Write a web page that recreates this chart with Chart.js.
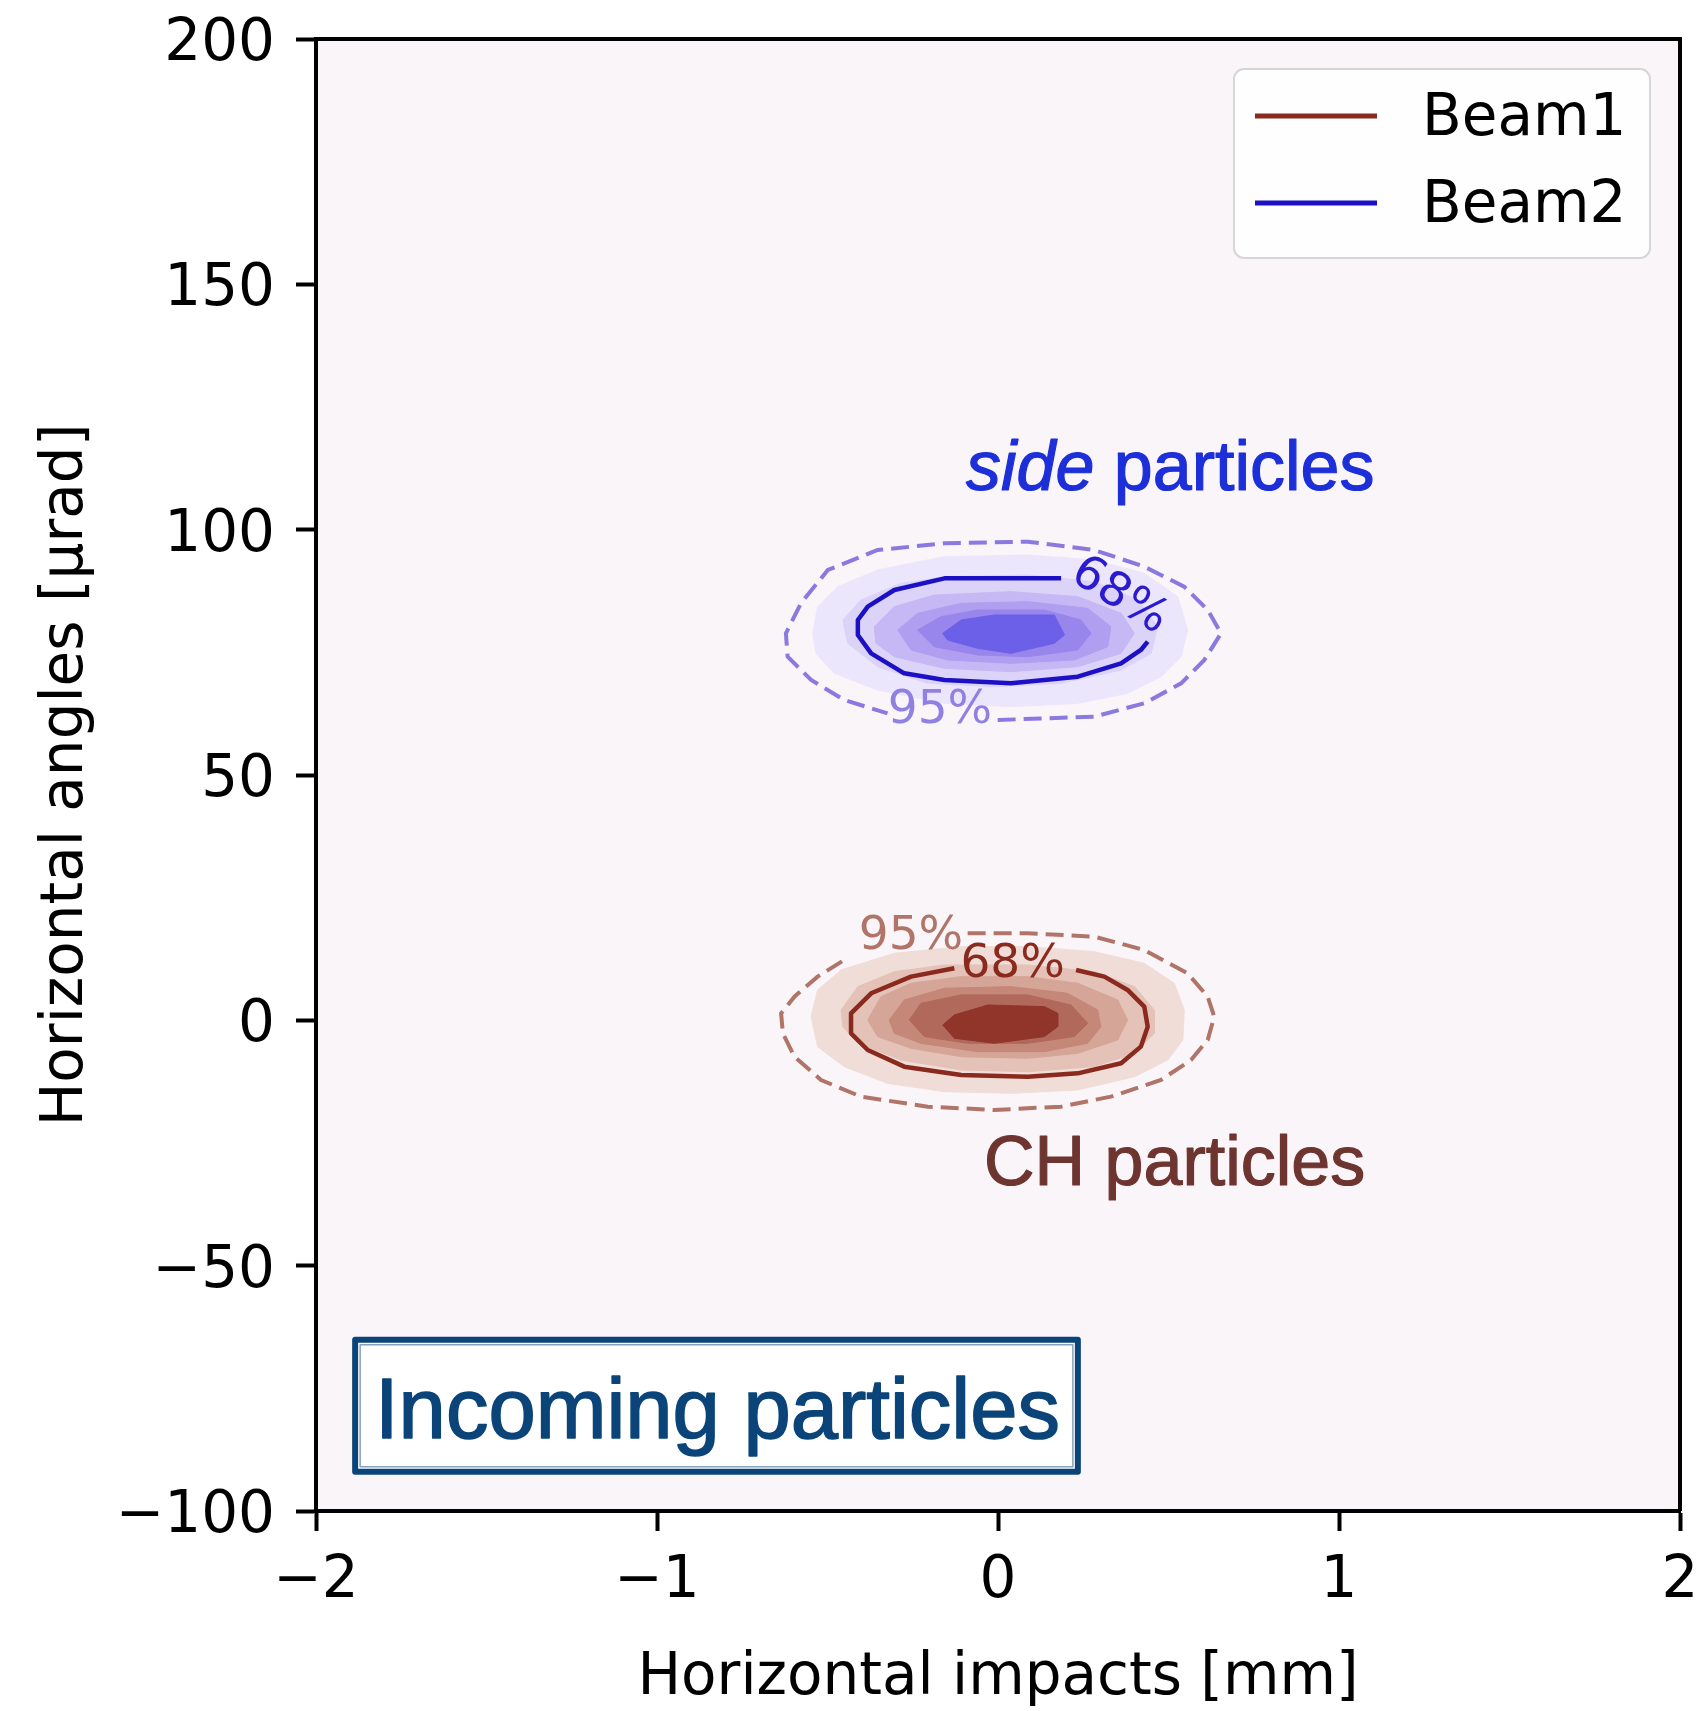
<!DOCTYPE html>
<html>
<head>
<meta charset="utf-8">
<script src="https://cdn.jsdelivr.net/npm/chart.js@4.4.1/dist/chart.umd.min.js"></script>
<style>
  html, body { margin: 0; padding: 0; background: #fff; }
  #chart { display: block; }
</style>
</head>
<body>
<canvas id="chart" width="1700" height="1711"></canvas>
<script>
// axis ticks
const xTicks = [-2, -1, 0, 1, 2];
const yTicks = [-100, -50, 0, 50, 100, 150, 200];

// Beam1 (CH particles) density bands, outermost first, [x mm, y urad]
const beam1Bands = [
  [[-0.548, 0.75], [-0.529, 6.19], [-0.460, 10.26], [-0.304, 13.66], [-0.108, 15.02], [0.087, 15.02], [0.282, 14.00], [0.429, 11.62], [0.517, 7.55], [0.546, 2.11], [0.542, -4.00], [0.498, -8.08], [0.400, -11.48], [0.234, -14.19], [0.038, -14.87], [-0.157, -14.53], [-0.324, -12.83], [-0.451, -9.44], [-0.529, -5.36]],
  [[-0.460, 2.11], [-0.411, 6.87], [-0.304, 9.92], [-0.157, 11.28], [0.087, 11.28], [0.282, 9.92], [0.400, 6.87], [0.458, 2.11], [0.458, -2.64], [0.400, -6.72], [0.282, -9.44], [0.087, -10.46], [-0.108, -10.12], [-0.284, -8.08], [-0.411, -4.68], [-0.455, -1.29]],
  [[-0.382, 0.07], [-0.343, 4.83], [-0.255, 7.55], [-0.108, 8.90], [0.087, 8.90], [0.234, 7.55], [0.351, 4.15], [0.380, 0.07], [0.351, -4.00], [0.234, -6.72], [0.087, -7.74], [-0.108, -7.40], [-0.255, -5.70], [-0.353, -3.32]],
  [[-0.319, 0.07], [-0.275, 4.15], [-0.157, 6.53], [0.038, 6.87], [0.204, 5.51], [0.292, 2.11], [0.302, -1.29], [0.263, -4.68], [0.136, -6.38], [-0.060, -6.38], [-0.226, -4.68], [-0.304, -2.64]],
  [[-0.260, 0.07], [-0.226, 3.47], [-0.108, 5.17], [0.087, 5.17], [0.214, 3.13], [0.263, -0.61], [0.224, -3.32], [0.087, -4.68], [-0.089, -4.68], [-0.216, -3.32]],
  [[-0.162, -0.95], [-0.128, 1.09], [-0.030, 3.13], [0.136, 2.79], [0.175, 1.43], [0.175, -1.29], [0.136, -3.32], [-0.011, -4.68], [-0.128, -3.66]]
];
const beam1Line68 = [[-0.128, 10.60], [-0.255, 8.90], [-0.372, 5.51], [-0.431, 1.43], [-0.431, -2.64], [-0.382, -6.04], [-0.275, -9.44], [-0.108, -11.14], [0.087, -11.48], [0.234, -10.80], [0.361, -8.76], [0.419, -5.36], [0.439, -1.29], [0.429, 2.79], [0.380, 6.19], [0.312, 8.90], [0.229, 10.26]];
const beam1Line95 = [[-0.089, 17.74], [0.087, 17.74], [0.282, 17.06], [0.429, 14.34], [0.556, 9.58], [0.615, 4.83], [0.634, 0.75], [0.615, -4.00], [0.566, -8.08], [0.478, -12.16], [0.331, -15.55], [0.185, -17.59], [-0.011, -18.27], [-0.206, -17.59], [-0.402, -15.55], [-0.519, -12.16], [-0.597, -7.40], [-0.631, -2.64], [-0.636, 1.43], [-0.597, 4.83], [-0.529, 8.90], [-0.451, 12.30]];

// Beam2 (side particles) density bands, outermost first
const beam2Bands = [
  [[-0.543, 78.87], [-0.529, 84.31], [-0.470, 88.38], [-0.353, 91.78], [-0.157, 94.50], [0.087, 94.84], [0.282, 93.82], [0.429, 91.10], [0.527, 86.35], [0.556, 79.55], [0.537, 74.12], [0.478, 70.04], [0.380, 66.64], [0.234, 64.61], [0.038, 63.93], [-0.157, 64.61], [-0.353, 67.32], [-0.480, 70.72], [-0.534, 74.80]],
  [[-0.455, 81.59], [-0.402, 85.67], [-0.284, 89.06], [-0.148, 90.42], [0.087, 90.76], [0.282, 89.40], [0.410, 85.67], [0.468, 80.23], [0.449, 74.80], [0.361, 71.40], [0.185, 68.68], [-0.011, 68.00], [-0.206, 68.68], [-0.353, 72.08], [-0.441, 76.84]],
  [[-0.363, 80.23], [-0.304, 84.31], [-0.187, 86.68], [0.038, 87.36], [0.234, 86.35], [0.361, 82.95], [0.400, 78.87], [0.361, 74.80], [0.234, 72.08], [0.038, 71.06], [-0.157, 71.74], [-0.304, 74.12], [-0.358, 76.84]],
  [[-0.294, 79.55], [-0.236, 82.95], [-0.108, 84.99], [0.087, 85.33], [0.263, 83.97], [0.331, 80.23], [0.322, 76.16], [0.224, 73.44], [0.038, 72.76], [-0.148, 73.44], [-0.255, 75.48]],
  [[-0.236, 79.55], [-0.167, 82.27], [-0.060, 83.63], [0.136, 83.63], [0.243, 81.59], [0.273, 78.87], [0.234, 75.48], [0.087, 74.12], [-0.060, 74.46], [-0.187, 76.16]],
  [[-0.162, 78.87], [-0.108, 81.59], [-0.011, 82.61], [0.165, 82.61], [0.195, 78.53], [0.165, 76.84], [0.038, 74.80], [-0.060, 75.82], [-0.148, 77.51]]
];
const beam2Line68 = [[0.185, 90.08], [-0.157, 90.08], [-0.304, 87.70], [-0.382, 84.31], [-0.411, 81.59], [-0.411, 78.53], [-0.372, 74.80], [-0.275, 70.72], [-0.157, 69.36], [0.038, 68.68], [0.234, 70.04], [0.361, 72.76], [0.419, 75.48], [0.439, 77.17]];
const beam2Line95 = [[-0.001, 61.21], [0.282, 61.89], [0.429, 64.61], [0.537, 68.68], [0.605, 73.44], [0.654, 78.87], [0.615, 83.63], [0.546, 88.38], [0.429, 92.46], [0.282, 95.86], [0.087, 97.55], [-0.157, 97.21], [-0.353, 95.86], [-0.499, 91.78], [-0.578, 84.99], [-0.622, 78.87], [-0.617, 74.12], [-0.548, 69.36], [-0.451, 65.29], [-0.324, 62.57]];

// contour level labels: text and anchor in data units
const beam1LevelLabels = [['95%', -0.255, 17.1], ['68%', 0.043, 11.3]];
const beam2LevelLabels = [['95%', -0.17, 63.0], ['68%', 0.356, 86.4]];

const beam1BandColors = ['#f0ddd7', '#e4c2b8', '#d5a598', '#c58777', '#b0695b', '#913429'];
const beam2BandColors = ['#ebe6fb', '#dcd3f8', '#c6b8f4', '#b09ff0', '#9886ed', '#6c5fe8'];

const pts = arr => arr.map(([x, y]) => ({x, y}));
const closed = arr => pts(arr.concat([arr[0]]));

const datasets = [];

function addBeam(name, bands, colors, line68, line95, solidColor, dashColor) {
  bands.forEach((band, i) => {
    datasets.push({
      label: name + ' band ' + (i + 1),
      data: closed(band),
      showLine: true,
      fill: 'shape',
      backgroundColor: colors[i],
      borderColor: colors[i],
      borderWidth: 1,
      pointRadius: 0,
      tension: 0,
      order: 20 - i
    });
  });
  datasets.push({
    label: name,
    data: pts(line68),
    showLine: true,
    fill: false,
    borderColor: solidColor,
    borderWidth: 4.5,
    borderJoinStyle: 'round',
    pointRadius: 0,
    tension: 0,
    order: 1,
    inLegend: true
  });
  datasets.push({
    label: name + ' 95%',
    data: pts(line95),
    showLine: true,
    fill: false,
    borderColor: dashColor,
    borderWidth: 4,
    borderDash: [18, 8],
    pointRadius: 0,
    tension: 0,
    order: 2
  });
}

addBeam('Beam1', beam1Bands, beam1BandColors, beam1Line68, beam1Line95, '#8a2a1f', '#b07468');
addBeam('Beam2', beam2Bands, beam2BandColors, beam2Line68, beam2Line95, '#1c10c4', '#8a7ae0');

const minus = v => String(v).replace('-', '\u2212');
const AXIS_FONT = {family: '"DejaVu Sans", sans-serif', size: 58, lineHeight: 1.2};
const TITLE_FONT = {family: '"DejaVu Sans", sans-serif', size: 58, lineHeight: 1.1};

// plot background
const backdrop = {
  id: 'backdrop',
  beforeDraw(chart) {
    const {ctx, chartArea: a} = chart;
    ctx.save();
    ctx.fillStyle = '#ffffff';
    ctx.fillRect(0, 0, chart.width, chart.height);
    ctx.fillStyle = '#faf5f9';
    ctx.fillRect(a.left, a.top, a.right - a.left, a.bottom - a.top);
    ctx.restore();
  }
};

// text drawn slightly heavier than the regular face
function heavyText(ctx, text, x, y, weight) {
  ctx.fillText(text, x, y);
  ctx.lineWidth = weight;
  ctx.strokeStyle = ctx.fillStyle;
  ctx.strokeText(text, x, y);
}

// contour labels, annotations, legend and the top/right spines
const overlay = {
  id: 'overlay',
  afterDatasetsDraw(chart) {
    const {ctx, chartArea: a} = chart;
    const sx = chart.scales.x, sy = chart.scales.y;
    const px = v => sx.getPixelForValue(v), py = v => sy.getPixelForValue(v);

    function levelLabel(lbl, color, angle) {
      ctx.save();
      ctx.translate(px(lbl[1]), py(lbl[2]));
      ctx.rotate(angle * Math.PI / 180);
      ctx.font = '47px "DejaVu Sans"';
      ctx.fillStyle = color;
      ctx.textAlign = 'center';
      ctx.textBaseline = 'middle';
      ctx.fillText(lbl[0], 0, 0);
      ctx.restore();
    }
    levelLabel(beam1LevelLabels[0], '#b07468', 0);
    levelLabel(beam1LevelLabels[1], '#8a2a1f', 0);
    levelLabel(beam2LevelLabels[0], '#8f80e2', 0);
    levelLabel(beam2LevelLabels[1], '#2a1ad0', 32);

    ctx.save();
    ctx.textBaseline = 'alphabetic';
    ctx.textAlign = 'left';
    ctx.lineJoin = 'round';
    // "side particles"
    let x0 = px(-0.094), y0 = py(108.1);
    ctx.fillStyle = '#1c2fd9';
    ctx.font = 'italic 70px "Liberation Sans", Arial, sans-serif';
    heavyText(ctx, 'side', x0, y0, 1.2);
    x0 += ctx.measureText('side').width;
    ctx.font = '70px "Liberation Sans", Arial, sans-serif';
    heavyText(ctx, ' particles', x0, y0, 1.2);
    // "CH particles"
    ctx.fillStyle = '#6e3530';
    heavyText(ctx, 'CH particles', px(-0.041), py(-33.5), 1.2);

    // "Incoming particles" box
    const bx = px(-1.894), by = py(-64.5), bw = px(0.243) - bx, bh = py(-92.6) - by;
    ctx.fillStyle = '#ffffff';
    ctx.fillRect(bx, by, bw, bh);
    ctx.strokeStyle = '#0b4479';
    ctx.lineWidth = 6;
    ctx.strokeRect(bx + 3, by + 3, bw - 6, bh - 6);
    ctx.globalAlpha = 0.5;
    ctx.lineWidth = 1.5;
    ctx.strokeRect(bx + 8, by + 8, bw - 16, bh - 16);
    ctx.globalAlpha = 1;
    ctx.fillStyle = '#0b4479';
    ctx.font = '85px "Liberation Sans", Arial, sans-serif';
    heavyText(ctx, 'Incoming particles', px(-1.827), py(-85.1), 1.6);
    ctx.restore();

    // legend
    const lw = 416, lh = 189;
    const lx = a.right - 30 - lw, ly = a.top + 30;
    ctx.save();
    ctx.beginPath();
    ctx.roundRect(lx, ly, lw, lh, 10);
    ctx.fillStyle = 'rgba(255,255,255,0.85)';
    ctx.fill();
    ctx.strokeStyle = '#d6d6d6';
    ctx.lineWidth = 2;
    ctx.stroke();
    const entries = chart.data.datasets.filter(d => d.inLegend);
    ctx.font = '58px "DejaVu Sans"';
    ctx.textBaseline = 'middle';
    ctx.fillStyle = '#000';
    entries.forEach((d, i) => {
      const rowY = ly + 47 + i * 87;
      ctx.beginPath();
      ctx.moveTo(lx + 21, rowY);
      ctx.lineTo(lx + 143, rowY);
      ctx.strokeStyle = d.borderColor;
      ctx.lineWidth = 5;
      ctx.stroke();
      ctx.fillText(d.label, lx + 188, rowY + 4);
    });
    ctx.restore();

    // top and right spines
    ctx.save();
    ctx.strokeStyle = '#000';
    ctx.lineWidth = 4;
    ctx.beginPath();
    ctx.moveTo(a.left, a.top);
    ctx.lineTo(a.right, a.top);
    ctx.lineTo(a.right, a.bottom);
    ctx.stroke();
    ctx.restore();
  }
};

function noPad(scale) {
  scale.paddingLeft = 0;
  scale.paddingRight = 0;
  scale.paddingTop = 0;
  scale.paddingBottom = 0;
}

new Chart(document.getElementById('chart'), {
  type: 'scatter',
  data: {datasets},
  options: {
    responsive: false,
    animation: false,
    devicePixelRatio: 1,
    layout: {padding: {left: 0, right: 20, top: 39, bottom: 0}},
    plugins: {
      legend: {display: false},
      tooltip: {enabled: false}
    },
    scales: {
      x: {
        type: 'linear',
        min: -2,
        max: 2,
        afterBuildTicks: s => { s.ticks = xTicks.map(v => ({value: v})); },
        afterFit: s => { s.height = 200; noPad(s); },
        grid: {display: true, drawOnChartArea: false, drawTicks: true, tickLength: 20, tickWidth: 4, tickColor: '#000'},
        border: {display: true, color: '#000', width: 4},
        ticks: {color: '#000', font: AXIS_FONT, padding: 16, maxRotation: 0, callback: v => minus(v)},
        title: {display: true, text: 'Horizontal impacts [mm]', color: '#000', font: TITLE_FONT, padding: {top: 0, bottom: 0}}
      },
      y: {
        type: 'linear',
        min: -100,
        max: 200,
        afterBuildTicks: s => { s.ticks = yTicks.map(v => ({value: v})); },
        afterFit: s => { s.width = 316; noPad(s); },
        grid: {display: true, drawOnChartArea: false, drawTicks: true, tickLength: 20, tickWidth: 4, tickColor: '#000'},
        border: {display: true, color: '#000', width: 4},
        ticks: {color: '#000', font: AXIS_FONT, padding: 21, labelOffset: 6, callback: v => minus(v)},
        title: {display: true, text: 'Horizontal angles [\u03bcrad]', color: '#000', font: TITLE_FONT, padding: {top: 35, bottom: 0}}
      }
    }
  },
  plugins: [backdrop, overlay]
});
</script>
</body>
</html>
